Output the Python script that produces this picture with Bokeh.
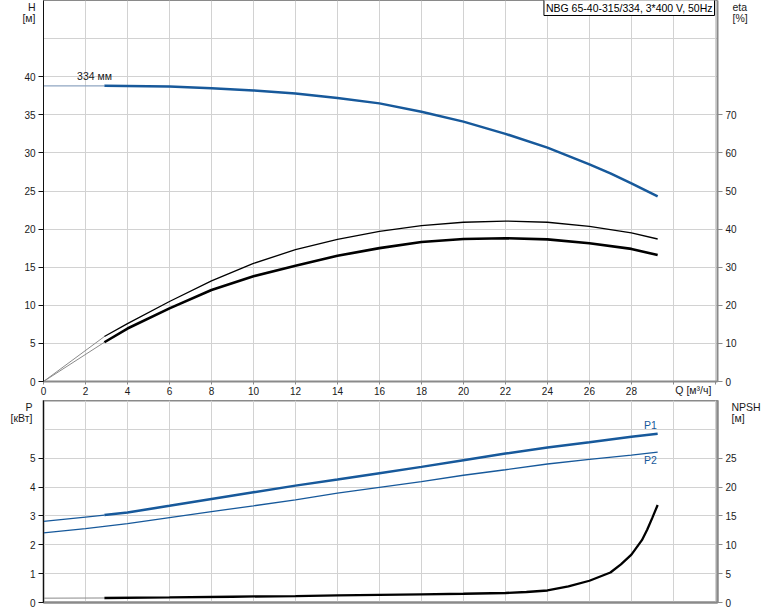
from bokeh.plotting import figure
from bokeh.models import Range1d, LinearAxis, FixedTicker, Label
from bokeh.layouts import column
from bokeh.embed import file_html
from bokeh.resources import INLINE

# ---------------- data ----------------
Q_START = 2.9  # start of the solid (operating) part of each curve

Q_H = [0, 2.9, 6, 8, 10, 12, 14, 16, 18, 20, 22, 24, 26, 27, 28, 29.25]
H = [38.8, 38.8, 38.7, 38.5, 38.2, 37.8, 37.2, 36.5, 35.4, 34.1, 32.5, 30.7, 28.5, 27.3, 26.0, 24.3]

Q_ETA = [0, 2.9, 4, 6, 8, 10, 12, 14, 16, 18, 20, 22, 24, 26, 28, 29.25]
ETA_1 = [0, 11.8, 15.2, 21.0, 26.4, 31.0, 34.6, 37.3, 39.4, 40.9, 41.8, 42.1, 41.8, 40.7, 39.0, 37.4]
ETA_2 = [0, 10.3, 13.9, 19.2, 24.0, 27.6, 30.4, 33.0, 35.0, 36.6, 37.4, 37.6, 37.3, 36.3, 34.8, 33.2]

Q_P = [0, 2, 2.9, 4, 6, 8, 10, 12, 14, 16, 18, 20, 22, 24, 26, 28, 29.25]
P1 = [2.81, 2.96, 3.03, 3.12, 3.35, 3.59, 3.82, 4.05, 4.26, 4.48, 4.70, 4.93, 5.16, 5.37, 5.55, 5.74, 5.85]
P2 = [2.41, 2.56, 2.64, 2.73, 2.94, 3.15, 3.35, 3.56, 3.79, 3.99, 4.19, 4.41, 4.60, 4.80, 4.96, 5.11, 5.21]

Q_NPSH = [0, 2.9, 6, 9, 12, 14, 16, 18, 20, 22, 23, 24, 25, 26, 27, 27.5, 28, 28.5, 28.75, 29, 29.25]
NPSH = [0.75, 0.78, 0.88, 1.0, 1.12, 1.22, 1.32, 1.42, 1.52, 1.65, 1.82, 2.08, 2.78, 3.77, 5.2, 6.6,
        8.3, 10.8, 12.6, 14.7, 16.9]

Q_TICKS = list(range(0, 33, 2))
H_TICKS = [0, 5, 10, 15, 20, 25, 30, 35, 40]
H_GRID = [0, 5, 10, 15, 20, 25, 30, 35, 40, 45]
ETA_TICKS = [0, 10, 20, 30, 40, 50, 60, 70]
P_TICKS = [0, 1, 2, 3, 4, 5]
P_GRID = [0, 1, 2, 3, 4, 5, 6, 7]
NPSH_TICKS = [0, 5, 10, 15, 20, 25]

TITLE = "NBG 65-40-315/334, 3*400 V, 50Hz"
IMPELLER = "334 мм"
H_NAME, H_UNIT = "H", "[м]"
ETA_NAME, ETA_UNIT = "eta", "[%]"
Q_NAME = "Q [м³/ч]"
P_NAME, P_UNIT = "P", "[кВт]"
NPSH_NAME, NPSH_UNIT = "NPSH", "[м]"

# ---------------- style ----------------
FONT = "Liberation Sans"
BLUE = "#17599b"
GRID = "#d2d2d2"
AXIS_GREY = "#8a8a8a"
TXT = "#1a1a1a"
W = 770


def style_axis(ax, color, width, tick_out=5):
    ax.axis_line_color = color
    ax.axis_line_width = width
    ax.major_tick_line_color = color
    ax.major_tick_out = tick_out
    ax.major_tick_in = 0
    ax.minor_tick_line_color = None
    ax.major_label_text_font = FONT
    ax.major_label_text_font_size = "10px"
    ax.major_label_text_color = TXT
    ax.major_label_standoff = 3


def name_axis(ticks, labels, standoff, **kw):
    """An axis used only to write the quantity name/unit beside the frame."""
    ax = LinearAxis(ticker=FixedTicker(ticks=ticks),
                    major_label_overrides=dict(zip(ticks, labels)), **kw)
    ax.axis_line_color = None
    ax.major_tick_line_color = None
    ax.minor_tick_line_color = None
    ax.major_tick_out = 0
    ax.major_tick_in = 0
    ax.major_label_standoff = standoff
    ax.major_label_text_font = FONT
    ax.major_label_text_font_size = "10.5px"
    ax.major_label_text_color = TXT
    return ax


def split(qs, vs):
    i = qs.index(Q_START)
    return (qs[: i + 1], vs[: i + 1]), (qs[i:], vs[i:])


def base_fig(height, yr, bottom):
    f = figure(width=W, height=height, x_range=Range1d(0, 32.1), y_range=yr,
               output_backend="svg", toolbar_location=None,
               min_border_left=43, min_border_right=W - 717, min_border_top=0,
               min_border_bottom=bottom, background_fill_color="white",
               border_fill_color="white", outline_line_color=AXIS_GREY,
               outline_line_width=1)
    f.xgrid.ticker = FixedTicker(ticks=Q_TICKS)
    f.xgrid.grid_line_color = GRID
    f.ygrid.grid_line_color = GRID
    f.xaxis.ticker = FixedTicker(ticks=Q_TICKS)
    return f


# ---------------- top panel: H and eta ----------------
p1 = base_fig(400, Range1d(0, 50), 19)
p1.extra_y_ranges = {"eta": Range1d(0, 100)}
p1.yaxis.ticker = FixedTicker(ticks=H_TICKS)
p1.ygrid.ticker = FixedTicker(ticks=H_GRID)
style_axis(p1.yaxis[0], "#111111", 1)
style_axis(p1.xaxis[0], AXIS_GREY, 2, tick_out=3)
p1.xaxis.major_label_standoff = 2
p1.xaxis.major_label_overrides = {30: "", 32: ""}
p1.add_layout(name_axis([49.3, 47.7], [H_NAME, H_UNIT], -14), "left")
p1.add_layout(name_axis([30.95], [Q_NAME], -14), "below")
eta_ax = LinearAxis(y_range_name="eta", ticker=FixedTicker(ticks=ETA_TICKS))
style_axis(eta_ax, AXIS_GREY, 2)
p1.add_layout(eta_ax, "right")
p1.add_layout(name_axis([98.7, 95.5], [ETA_NAME, ETA_UNIT], -7, y_range_name="eta"), "right")

(hq0, hv0), (hq1, hv1) = split(Q_H, H)
p1.line(hq0, hv0, line_color="#8fa6c2", line_width=1.3)
p1.line(hq1, hv1, line_color=BLUE, line_width=2.5)

(e1q0, e1v0), (e1q1, e1v1) = split(Q_ETA, ETA_1)
(e2q0, e2v0), (e2q1, e2v1) = split(Q_ETA, ETA_2)
p1.line(e1q0, e1v0, line_color="#8a8a8a", line_width=1, y_range_name="eta")
p1.line(e2q0, e2v0, line_color="#8a8a8a", line_width=1, y_range_name="eta")
p1.line(e1q1, e1v1, line_color="black", line_width=1.3, y_range_name="eta")
p1.line(e2q1, e2v1, line_color="black", line_width=2.6, y_range_name="eta")

p1.add_layout(Label(x=1.6, y=39.3, text=IMPELLER, text_font=FONT, text_font_size="10.5px",
                    text_color=TXT, text_baseline="bottom"))
p1.add_layout(Label(x=32.1, y=50, x_offset=-3, y_offset=1, text=TITLE, text_font=FONT,
                    text_font_size="10.5px", text_color="black", text_align="right",
                    text_baseline="top", background_fill_color="white",
                    border_line_color="black", border_line_width=1, padding=2))

# ---------------- bottom panel: P and NPSH ----------------
p2 = base_fig(210, Range1d(0, 7), 8)
p2.extra_y_ranges = {"npsh": Range1d(0, 35)}
p2.yaxis.ticker = FixedTicker(ticks=P_TICKS)
p2.ygrid.ticker = FixedTicker(ticks=P_GRID)
style_axis(p2.yaxis[0], "#111111", 1)
style_axis(p2.xaxis[0], AXIS_GREY, 2, tick_out=0)
p2.xaxis.major_label_overrides = {t: "" for t in Q_TICKS}
p2.xaxis.major_label_standoff = 0
p2.outline_line_width = 2
p2.add_layout(name_axis([6.88, 6.39], [P_NAME, P_UNIT], -6), "left")
npsh_ax = LinearAxis(y_range_name="npsh", ticker=FixedTicker(ticks=NPSH_TICKS))
style_axis(npsh_ax, AXIS_GREY, 2)
p2.add_layout(npsh_ax, "right")
p2.add_layout(name_axis([34.2, 31.96], [NPSH_NAME, NPSH_UNIT], -8, y_range_name="npsh"), "right")

(p1q0, p1v0), (p1q1, p1v1) = split(Q_P, P1)
p2.line(p1q0, p1v0, line_color=BLUE, line_width=1.2)
p2.line(p1q1, p1v1, line_color=BLUE, line_width=2.5)
p2.line(Q_P, P2, line_color=BLUE, line_width=1.3)

(nq0, nv0), (nq1, nv1) = split(Q_NPSH, NPSH)
p2.line(nq0, nv0, line_color="#8a8a8a", line_width=1, y_range_name="npsh")
p2.line(nq1, nv1, line_color="black", line_width=2.3, y_range_name="npsh")

p2.add_layout(Label(x=28.6, y=5.93, text="P1", text_font=FONT, text_font_size="10.5px",
                    text_color=BLUE, text_baseline="bottom"))
p2.add_layout(Label(x=28.6, y=5.13, text="P2", text_font=FONT, text_font_size="10.5px",
                    text_color=BLUE, text_baseline="top"))

layout = column(p1, p2, spacing=0)
open("out.html", "w").write(file_html(layout, INLINE))
